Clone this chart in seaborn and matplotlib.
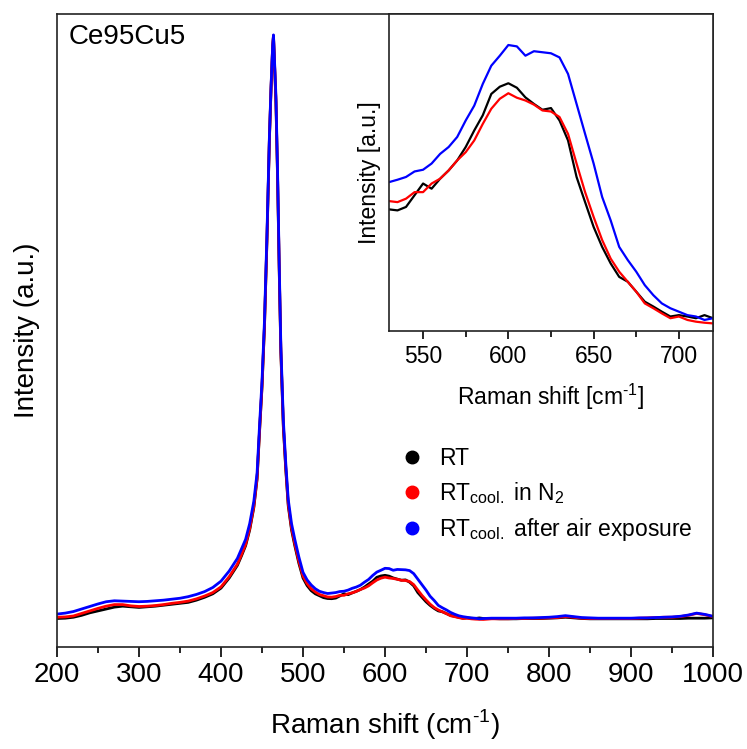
import matplotlib
matplotlib.use("Agg")
import matplotlib.pyplot as plt
from matplotlib.lines import Line2D
from matplotlib.ticker import MultipleLocator
import numpy as np
import pandas as pd
import seaborn as sns

# Raman shift grid (cm-1)
shift = [200, 210, 220, 230, 240, 250, 260, 270, 280, 290, 300, 310, 320, 330, 340,
         350, 360, 370, 380, 390, 400, 410, 420, 425, 430, 435, 440, 444, 447, 450,
         453, 456, 459, 461, 463, 464, 465, 467, 469, 471, 473, 476, 479, 482, 486,
         490, 495, 500, 505, 510, 515, 520, 525,
         530, 535, 540, 545, 550, 555, 560, 565, 570, 575, 580, 585, 590, 595, 600,
         605, 610, 615, 620, 625, 630, 635, 640, 645, 650, 655, 660, 665, 670, 675,
         680, 685, 690, 695, 700, 705, 710, 715, 720,
         730, 740, 750, 760, 770, 780, 790, 800, 810, 820, 830, 840, 850, 860, 870,
         880, 890, 900, 910, 920, 930, 940, 950, 960, 970, 980, 990, 1000]

rt = [4.5, 4.55, 4.7, 5.0, 5.4, 5.7, 6.0, 6.3, 6.45, 6.35, 6.25, 6.35, 6.45, 6.6, 6.75,
      6.9, 7.05, 7.4, 7.85, 8.4, 9.3, 10.9, 12.9, 14.4, 16.0, 18.5, 22.0, 26.5, 34.0, 41.0,
      50.5, 64.0, 80.0, 88.0, 94.8, 96.5, 93.0, 86.0, 74.0, 59.5, 46.5, 34.8, 28.0, 22.3, 18.5,
      16.0, 13.2, 10.9, 9.7, 8.9, 8.4, 8.1, 7.8,
      7.66, 7.63, 7.73, 8.07, 8.41, 8.26, 8.55, 8.79, 9.08, 9.47, 9.95, 10.39, 11.01, 11.22, 11.32,
      11.19, 10.91, 10.72, 10.55, 10.60, 10.24, 9.66, 8.60, 7.87, 7.15, 6.57, 6.09, 5.70, 5.56, 5.27,
      4.98, 4.84, 4.69, 4.55, 4.59, 4.55, 4.50, 4.59, 4.50,
      4.5, 4.45, 4.45, 4.45, 4.5, 4.5, 4.5, 4.55, 4.6, 4.7, 4.6, 4.5, 4.45, 4.45, 4.45,
      4.45, 4.45, 4.45, 4.45, 4.45, 4.5, 4.5, 4.5, 4.5, 4.55, 4.55, 4.55, 4.6]

rt_n2 = [4.7, 4.75, 4.9, 5.3, 5.7, 6.1, 6.45, 6.7, 6.7, 6.5, 6.4, 6.45, 6.55, 6.7, 6.9,
         7.05, 7.25, 7.6, 8.05, 8.6, 9.5, 11.1, 13.1, 14.6, 16.2, 18.7, 22.2, 26.7, 34.2, 41.2,
         50.7, 64.2, 80.2, 88.2, 94.9, 96.6, 93.2, 86.3, 74.3, 59.8, 46.8, 35.1, 28.3, 22.6, 18.8,
         16.3, 13.5, 11.2, 10.0, 9.2, 8.7, 8.3, 8.1,
         7.90, 7.87, 7.97, 8.16, 8.16, 8.41, 8.55, 8.79, 9.08, 9.32, 9.66, 10.14, 10.58, 10.87, 11.03,
         10.90, 10.82, 10.70, 10.53, 10.50, 10.34, 9.85, 8.99, 8.16, 7.44, 6.77, 6.23, 5.85, 5.56, 5.27,
         4.93, 4.79, 4.64, 4.50, 4.55, 4.45, 4.40, 4.37, 4.35,
         4.45, 4.45, 4.45, 4.5, 4.5, 4.55, 4.55, 4.6, 4.65, 4.8, 4.7, 4.55, 4.5, 4.5, 4.5,
         4.5, 4.5, 4.5, 4.55, 4.6, 4.65, 4.7, 4.7, 4.8, 5.0, 5.3, 5.1, 4.8]

rt_air = [5.2, 5.35, 5.6, 6.0, 6.4, 6.8, 7.15, 7.3, 7.25, 7.2, 7.15, 7.2, 7.3, 7.4, 7.55,
          7.7, 7.95, 8.3, 8.75, 9.4, 10.4, 12.0, 14.0, 15.5, 17.0, 19.5, 23.0, 27.5, 35.0, 42.0,
          51.5, 65.0, 80.5, 88.5, 95.0, 96.7, 93.5, 87.0, 75.0, 60.5, 47.5, 35.9, 29.0, 23.3, 19.5,
          17.0, 14.2, 11.8, 10.6, 9.8, 9.2, 8.8, 8.6,
          8.45, 8.52, 8.60, 8.76, 8.81, 8.99, 9.27, 9.47, 9.76, 10.24, 10.67, 11.30, 11.83, 12.12, 12.43,
          12.39, 12.12, 12.25, 12.22, 12.19, 12.07, 11.59, 10.72, 9.85, 8.99, 8.02, 7.34, 6.57, 6.19, 5.85,
          5.46, 5.17, 4.93, 4.79, 4.69, 4.59, 4.55, 4.45, 4.50,
          4.55, 4.55, 4.55, 4.55, 4.6, 4.6, 4.65, 4.7, 4.8, 4.95, 4.8, 4.65, 4.6, 4.55, 4.55,
          4.55, 4.55, 4.55, 4.6, 4.6, 4.65, 4.7, 4.75, 4.85, 5.05, 5.35, 5.15, 4.85]

labels = ["RT",
          r"RT$_\mathregular{cool.}$ in N$_\mathregular{2}$",
          r"RT$_\mathregular{cool.}$ after air exposure"]
colors = ["#000000", "#ff0000", "#0000ff"]

df = pd.concat([
    pd.DataFrame({"shift": shift, "intensity": vals, "sample": lab})
    for vals, lab in zip([rt, rt_n2, rt_air], labels)
])

sns.set_style("ticks")
plt.rcParams["font.family"] = ["Liberation Sans", "DejaVu Sans"]
plt.rcParams["mathtext.fontset"] = "custom"
plt.rcParams["mathtext.rm"] = "Liberation Sans"
plt.rcParams["axes.linewidth"] = 1.2
plt.rcParams["axes.edgecolor"] = "#222222"
plt.rcParams["text.color"] = "black"
plt.rcParams["axes.labelcolor"] = "black"
plt.rcParams["xtick.color"] = "black"
plt.rcParams["xtick.labelcolor"] = "black"

fig = plt.figure(figsize=(7.47, 7.49), dpi=100)
ax = fig.add_axes([0.0763, 0.1362, 0.8782, 0.8451])

sns.lineplot(data=df, x="shift", y="intensity", hue="sample", palette=colors,
             hue_order=labels, linewidth=2.0, legend=False, ax=ax, sort=False)
ax.set_xlim(200, 1000)
ax.set_ylim(0, 100)
ax.set_yticks([])
ax.xaxis.set_major_locator(MultipleLocator(100))
ax.xaxis.set_minor_locator(MultipleLocator(50))
ax.tick_params(axis="x", which="major", direction="out", length=7, width=1.2,
               labelsize=20, pad=4)
ax.tick_params(axis="x", which="minor", direction="out", length=4, width=1.2)
ax.set_xlabel(r"Raman shift (cm$^{\text{-}1}$)", fontsize=20, labelpad=14)
ax.set_ylabel("Intensity (a.u.)", fontsize=20, labelpad=12)
ax.text(0.018, 0.985, "Ce95Cu5", transform=ax.transAxes, fontsize=20,
        ha="left", va="top")

handles = [Line2D([], [], marker="o", linestyle="", color=c, markersize=9)
           for c in colors]
ax.legend(handles, labels, loc="upper left", bbox_to_anchor=(0.488, 0.349),
          frameon=False, fontsize=16.5, handletextpad=0.6, labelspacing=0.45,
          handlelength=1.2)

# inset zoom on the 600 cm-1 band
axin = fig.add_axes([0.5207, 0.5581, 0.4338, 0.4232])
sns.lineplot(data=df[(df["shift"] >= 525) & (df["shift"] <= 725)], x="shift",
             y="intensity", hue="sample", palette=colors, hue_order=labels,
             linewidth=1.6, legend=False, ax=axin, sort=False)
axin.set_xlim(530, 720)
axin.set_ylim(4.13, 13.33)
axin.set_yticks([])
axin.xaxis.set_major_locator(MultipleLocator(50))
axin.xaxis.set_minor_locator(MultipleLocator(25))
axin.tick_params(axis="x", which="major", direction="out", length=6, width=1.2,
                 labelsize=16.5, pad=4)
axin.tick_params(axis="x", which="minor", direction="out", length=4, width=1.2)
axin.set_xlabel(r"Raman shift [cm$^{\text{-}1}$]", fontsize=16.5, labelpad=10)
axin.set_ylabel("Intensity [a.u.]", fontsize=16.5, labelpad=6)

fig.savefig("out.png", dpi=100)
plt.close(fig)
